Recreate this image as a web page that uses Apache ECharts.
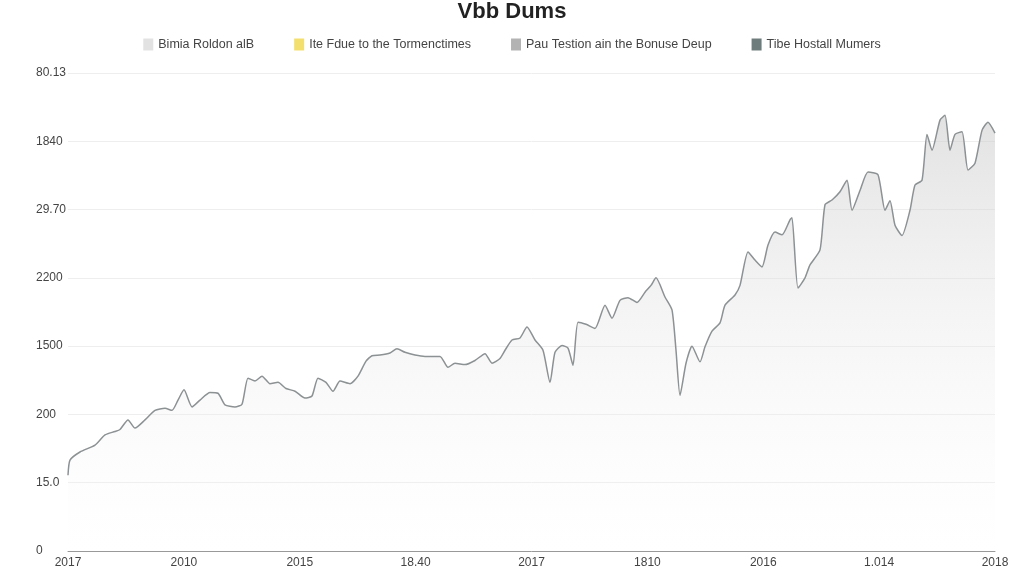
<!DOCTYPE html><html><head><meta charset="utf-8"><script src="https://cdn.jsdelivr.net/npm/echarts@6/dist/echarts.min.js"></script></head><body style="margin:0;background:#fff"><div id="c" style="width:1024px;height:576px"></div><script>
const xLabels=['2017','2010','2015','18.40','2017','1810','2016','1.014','2018'];
const yLabels=['0','15.0','200','1500','2200','29.70','1840','80.13'];
const legendNames=['Bimia Roldon alB','Ite Fdue to the Tormenctimes','Pau Testion ain the Bonuse Deup','Tibe Hostall Mumers'];
const legendColors=['#e2e2e2','#f3df6e','#b3b3b3','#6e7c7b'];
const t=[0,2,12,27,37,47,52,60,67,77,87,97,104,110,116,124,132,142,150,157,167,174,180,187,194,202,210,218,227,237,244,250,258,265,272,282,290,298,304,312,322,329,337,347,357,372,380,387,397,407,417,424,432,437,444,452,459,467,475,482,487,494,500,505,510,518,527,537,544,552,560,569,577,583,588,597,604,608,612,618,624,632,637,644,652,657,667,672,680,687,694,700,707,714,722,724,730,737,742,752,757,764,772,779,784,792,800,810,817,822,827,834,842,847,854,859,864,872,877,882,887,894,900,907,914,920,927];
const v=[1.11,1.33,1.45,1.55,1.70,1.75,1.78,1.92,1.80,1.92,2.06,2.09,2.06,2.21,2.36,2.11,2.21,2.32,2.31,2.14,2.11,2.15,2.53,2.49,2.56,2.45,2.47,2.38,2.34,2.24,2.27,2.53,2.47,2.34,2.49,2.45,2.56,2.78,2.86,2.87,2.90,2.96,2.91,2.87,2.85,2.85,2.69,2.75,2.73,2.79,2.89,2.75,2.82,2.94,3.09,3.12,3.28,3.09,2.94,2.47,2.91,3.01,2.97,2.72,3.35,3.32,3.26,3.60,3.41,3.67,3.71,3.64,3.79,3.89,4.00,3.72,3.53,2.94,2.28,2.75,3.00,2.77,2.99,3.22,3.34,3.60,3.75,3.89,4.38,4.26,4.16,4.48,4.67,4.63,4.85,4.88,3.85,4.00,4.19,4.41,5.07,5.14,5.26,5.43,4.99,5.28,5.55,5.51,4.99,5.13,4.77,4.62,4.99,5.36,5.43,6.10,5.87,6.31,6.38,5.87,6.10,6.14,5.58,5.68,6.16,6.28,6.12];
const data=t.map((x,i)=>[x,v[i]]);
const step=927/8;
const series=[{type:'line',name:'main',data:data,symbol:'none',smooth:0.2,lineStyle:{color:'#8c9193',width:1.5},
 areaStyle:{color:new echarts.graphic.LinearGradient(0,0,0,1,[{offset:0,color:'rgba(200,200,200,0.75)'},{offset:1,color:'rgba(255,255,255,0.2)'}])}}];
legendNames.forEach((n,i)=>series.push({type:'line',name:n,data:[],itemStyle:{color:legendColors[i]},lineStyle:{color:legendColors[i]}}));
const ch=echarts.init(document.getElementById('c'));
ch.setOption({backgroundColor:'#fff',animation:false,
 title:{text:'Vbb Dums',left:'center',top:-4,textStyle:{fontFamily:'Liberation Sans',fontSize:22,fontWeight:'bold',color:'#222'}},
 legend:{data:legendNames,top:33,left:'center',itemGap:40,icon:'rect',itemWidth:10,itemHeight:12,textStyle:{fontFamily:'Liberation Sans',fontSize:12.5,color:'#444'}},
 grid:{left:68,right:29,top:73,bottom:25},
 xAxis:{type:'value',min:0,max:927,interval:step,axisLine:{show:true,lineStyle:{color:'#999'}},axisTick:{show:false},splitLine:{show:false},
  axisLabel:{color:'#444',fontSize:12,margin:6,formatter:(x)=>xLabels[Math.round(x/step)]}},
 yAxis:{type:'value',min:0,max:7,interval:1,axisLine:{show:false},axisTick:{show:false},splitLine:{lineStyle:{color:'#eee'}},
  axisLabel:{color:'#444',fontSize:12,align:'left',margin:32,formatter:(x)=>yLabels[Math.round(x)]}},
 series:series});
</script></body></html>
